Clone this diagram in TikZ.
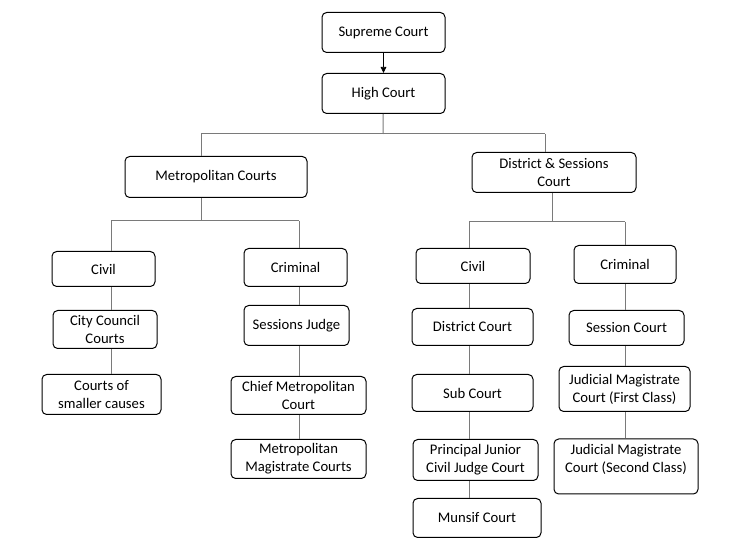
\documentclass[tikz,border=0pt]{standalone}
\usepackage{fontspec}
\setmainfont{Carlito}
\usepackage{tikz}
\usetikzlibrary{arrows.meta,calc}
\tikzset{
  >={Triangle[length=1.6mm,width=1.5mm]},
  cbox/.style={rounded corners=3.5pt, draw=black, line width=0.75pt,
               fill=white, align=center, inner sep=1pt,
               font=\fontsize{11}{13.5}\selectfont},
  clink/.style={black!52, line width=0.75pt},
  carrow/.style={->, black, line width=0.6pt},
}
\begin{document}
\begin{tikzpicture}[x=0.75pt, y=-0.75pt]
  \useasboundingbox (0,0) rectangle (746,555);

  % topo
  \node[cbox, minimum width=92.25pt, minimum height=30pt] (sup)   at (383.5,32.5) {Supreme Court};
  \node[cbox, minimum width=92.25pt, minimum height=30pt] (high)  at (383.5,93.5) {High Court};
  \node[cbox, minimum width=136.5pt, minimum height=30.75pt] (metro) at (216,177) {Metropolitan Courts};
  \node[cbox, minimum width=123pt, minimum height=30pt] (dist)  at (554,172.5)    {District \& Sessions\\Court};

  % metropolitan
  \node[cbox, minimum width=77.25pt, minimum height=26.25pt] (civl)  at (103.5,269)   {Civil};
  \node[cbox, minimum width=77.25pt, minimum height=28.5pt]  (criml) at (295.5,267.5) {Criminal};
  \node[cbox, minimum width=78pt, minimum height=28.5pt]     (city)  at (105,329.5)   {City Council\\Courts};
  \node[cbox, minimum width=89.25pt, minimum height=30pt]    (small) at (101.5,394.5) {Courts of\\smaller causes};
  \node[cbox, minimum width=78.75pt, minimum height=30pt]    (sjudge) at (296.5,325.5) {Sessions Judge};
  \node[cbox, minimum width=101.25pt, minimum height=28.5pt] (chief) at (298.5,395.5) {Chief Metropolitan\\Court};
  \node[cbox, minimum width=101.25pt, minimum height=29.25pt] (mmag) at (298.5,459)   {Metropolitan\\Magistrate Courts};

  % district
  \node[cbox, minimum width=85.5pt, minimum height=26.25pt]  (civr)  at (473,266)     {Civil};
  \node[cbox, minimum width=76.5pt, minimum height=28.5pt]   (crimr) at (625,264.5)   {Criminal};
  \node[cbox, minimum width=90.75pt, minimum height=27.75pt] (dcourt) at (472.5,327) {District Court};
  \node[cbox, minimum width=90.75pt, minimum height=27.75pt] (sub)   at (472.5,393)   {Sub Court};
  \node[cbox, minimum width=93.75pt, minimum height=30.75pt] (pjcj)  at (475.5,460)   {Principal Junior\\Civil Judge Court};
  \node[cbox, minimum width=96pt, minimum height=29.25pt]    (munsif) at (477,518)    {Munsif Court};
  \node[cbox, minimum width=86.25pt, minimum height=26.25pt] (sess)  at (626.5,328)   {Session Court};
  \node[cbox, minimum width=98.25pt, minimum height=33.75pt] (jmone) at (624.5,389)   {Judicial Magistrate\\Court (First Class)};
  \node[cbox, minimum width=108pt, minimum height=41.25pt]   (jmtwo) at (626,466.5)   {Judicial Magistrate\\Court (Second Class)\\[-6pt] \strut};

  % barramentos
  \coordinate (hbus) at (383,134);
  \coordinate (hl) at (201,134);
  \coordinate (hr) at (545,134);
  \coordinate (mbus) at (201,221);
  \coordinate (ml) at (111,221);
  \coordinate (mr) at (299,221);
  \coordinate (dbus) at (552,222);
  \coordinate (dl) at (469,222);
  \coordinate (dr) at (625,222);

  \draw[carrow] (sup) -- (high);
  \draw[clink] (high) -- (hbus);
  \draw[clink] (hl) -- (hr);
  \draw[clink] (hl) -- (hl |- metro.north);
  \draw[clink] (hr) -- (hr |- dist.north);

  \draw[clink] (mbus |- metro.south) -- (mbus);
  \draw[clink] (ml) -- (mr);
  \draw[clink] (ml) -- (ml |- civl.north);
  \draw[clink] (mr) -- (mr |- criml.north);

  \draw[clink] (dbus |- dist.south) -- (dbus);
  \draw[clink] (dl) -- (dr);
  \draw[clink] (dl) -- (dl |- civr.north);
  \draw[clink] (dr) -- (dr |- crimr.north);

  % colunas
  \foreach \a/\b in {civl/city, city/small}
    \draw[clink] (ml |- \a.south) -- (ml |- \b.north);
  \foreach \a/\b in {criml/sjudge, sjudge/chief, chief/mmag}
    \draw[clink] (mr |- \a.south) -- (mr |- \b.north);
  \foreach \a/\b in {civr/dcourt, dcourt/sub, sub/pjcj, pjcj/munsif}
    \draw[clink] (dl |- \a.south) -- (dl |- \b.north);
  \foreach \a/\b in {crimr/sess, sess/jmone, jmone/jmtwo}
    \draw[clink] (dr |- \a.south) -- (dr |- \b.north);

\end{tikzpicture}
\end{document}
